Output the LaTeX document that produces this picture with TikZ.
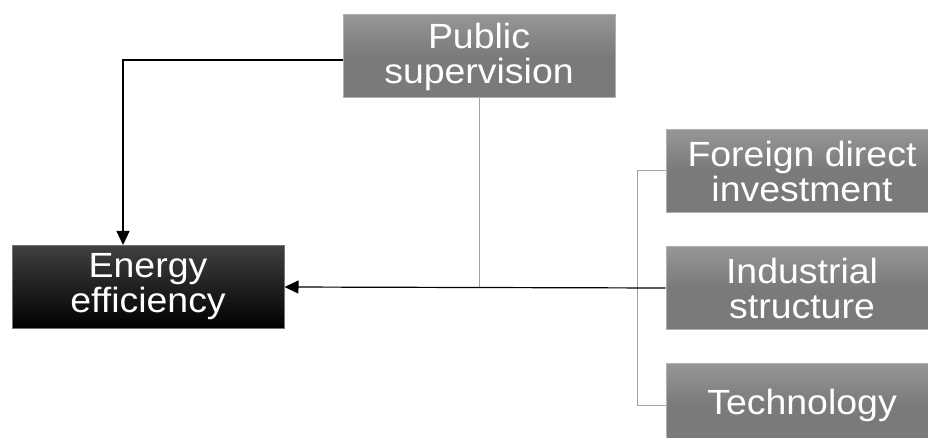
\documentclass[tikz,border=0pt]{standalone}
\usepackage{fontspec}
\setmainfont{Liberation Sans}
\newfontfamily\boxfont[FakeStretch=1.07]{Liberation Sans}
\usetikzlibrary{arrows.meta,calc}
\definecolor{boxgray}{RGB}{122,122,122}
\definecolor{boxtop}{RGB}{150,150,150}
\definecolor{edgegray}{RGB}{175,175,175}
\definecolor{linegray}{RGB}{160,160,160}
\begin{document}
\begin{tikzpicture}[x=1pt,y=-1pt,
  graybox/.style={rectangle, inner sep=0pt, minimum width=272pt, minimum height=83pt,
    top color=boxtop, bottom color=boxgray, middle color=boxgray, draw=edgegray, line width=1pt,
    text=white, align=center, font=\boxfont\fontsize{35pt}{35pt}\selectfont},
  blackbox/.style={graybox, top color=black!75, middle color=black, bottom color=black, draw=black!55},
  mainarrow/.style={draw=black, line width=1.2pt, -{Triangle[length=14pt,width=13pt]}},
  thinline/.style={draw=linegray, line width=1pt}]
\useasboundingbox (0,0) rectangle (928,438);
\node[graybox] (ps) at (479,56.5) {Public\\supervision};
\node[blackbox] (ee) at (148,287) {Energy\\efficiency};
\node[graybox] (fdi) at (802,171) {Foreign direct\\investment};
\node[graybox] (ind) at (802,288) {Industrial\\structure};
\node[graybox] (tech) at (802,405) {Technology};
\draw[thinline] (ps.south) -- (ps.south |- ind.west);
\draw[thinline] (fdi.west) -- ++(-28,0) |- (tech.west);
\draw[mainarrow] (ind.west) -- (ee.east);
\draw[mainarrow] ([yshift=-3.5pt]ps.west) -| ([xshift=-25pt]ee.north);
\end{tikzpicture}
\end{document}
